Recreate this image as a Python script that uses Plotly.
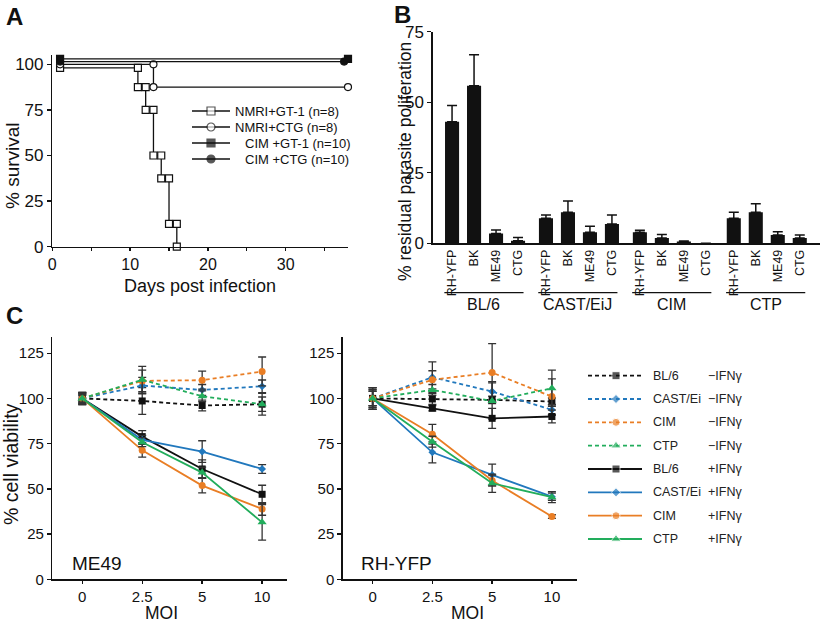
import plotly.graph_objects as go

W, H = 822, 622
FONT = "Liberation Sans, Arial, sans-serif"
INK = "#111111"

# ---------------- Panel A: survival ----------------
nmri_gt1_days = [1, 11, 11, 12, 12, 13, 13, 14, 14, 15, 15, 16, 16]
nmri_gt1_surv = [98, 98, 87.5, 87.5, 75, 75, 50, 50, 37.5, 37.5, 12.5, 12.5, 0]
nmri_ctg_days = [1, 13, 13, 38]
nmri_ctg_surv = [100, 100, 87.5, 87.5]
cim_gt1_days = [1, 38]
cim_gt1_surv = [103, 103]
cim_ctg_days = [1, 37.5]
cim_ctg_surv = [101.5, 101.5]
a_labels = ["NMRI+GT-1 (n=8)", "NMRI+CTG (n=8)", "CIM +GT-1 (n=10)", "CIM +CTG (n=10)"]
a_xticks = [0, 10, 20, 30]
a_yticks = [0, 25, 50, 75, 100]

# ---------------- Panel B: residual proliferation ----------------
b_groups = ["BL/6", "CAST/EiJ", "CIM", "CTP"]
b_strains = ["RH-YFP", "BK", "ME49", "CTG"]
b_bl6 = [43.1, 55.8, 3.5, 0.9]
b_cast = [8.9, 11.0, 3.9, 6.8]
b_cim = [3.9, 1.9, 0.6, 0.0]
b_ctp = [8.9, 11.0, 2.9, 1.9]
b_bl6_err = [5.7, 11.0, 1.2, 1.2]
b_cast_err = [1.1, 4.0, 2.1, 3.2]
b_cim_err = [0.7, 1.2, 0.2, 0.0]
b_ctp_err = [2.1, 3.0, 1.2, 1.0]
b_yticks = [0, 25, 50, 75]

# ---------------- Panel C: cell viability ----------------
moi = ["0", "2.5", "5", "10"]
c_strains = ["BL/6", "CAST/Ei", "CIM", "CTP"]
c_yticks = [0, 25, 50, 75, 100, 125]

me49_minus = [[100, 98.6, 96.1, 96.8], [100, 107.1, 104.7, 106.7],
              [100, 109.7, 110.1, 114.9], [100, 110.3, 101.2, 96.8]]
me49_minus_err = [[3.5, 7.4, 3.0, 4.0], [3.0, 4.5, 3.0, 3.5],
                  [3.0, 6.0, 5.0, 8.0], [3.0, 7.4, 3.0, 6.0]]
me49_plus = [[100, 78.9, 61.0, 47.0], [100, 77.1, 70.6, 61.0],
             [100, 71.3, 51.8, 38.9], [100, 75.8, 59.0, 31.5]]
me49_plus_err = [[3.0, 3.3, 5.0, 5.0], [2.0, 2.5, 6.0, 2.4],
                 [2.0, 3.7, 4.0, 3.5], [2.0, 2.5, 3.0, 9.8]]

rh_minus = [[100, 99.7, 99.2, 98.3], [100, 111.7, 103.8, 93.7],
            [100, 110.3, 114.3, 101.0], [100, 104.7, 98.6, 105.6]]
rh_minus_err = [[6.0, 3.0, 2.0, 2.0], [5.0, 8.5, 5.5, 3.0],
                [6.0, 5.0, 16.0, 9.8], [5.0, 3.0, 10.0, 10.0]]
rh_plus = [[100, 94.6, 89.0, 90.0], [100, 70.2, 57.7, 45.7],
           [100, 80.2, 54.6, 34.7], [100, 76.1, 53.1, 45.4]]
rh_plus_err = [[6.0, 1.5, 5.5, 3.5], [4.0, 5.8, 6.0, 2.0],
               [4.0, 5.5, 3.0, 1.0], [4.0, 3.0, 5.0, 3.0]]

# ---------------- styles ----------------
c_colors = ["#111111", "#2178bd", "#e97e25", "#22ad5c"]
c_symbols = ["square", "diamond", "circle", "triangle-up"]
c_sizes = [7, 6, 7, 8]
DASH = "4px,3px"


def px(x):
    return x / W


def py(y):
    return 1 - y / H


fig = go.Figure()

# ---- Panel A traces ----
a_series = [
    (nmri_gt1_days, nmri_gt1_surv, "square", "white"),
    (nmri_ctg_days, nmri_ctg_surv, "circle", "white"),
    (cim_ctg_days, cim_ctg_surv, "circle", INK),
    (cim_gt1_days, cim_gt1_surv, "square", INK),
]
for xs, ys, sym, fill in a_series:
    fig.add_trace(go.Scatter(
        x=xs, y=ys, mode="lines+markers", xaxis="x", yaxis="y",
        line=dict(color=INK, width=1.3),
        marker=dict(symbol=sym, size=7, color=fill, line=dict(color=INK, width=1.2)),
        cliponaxis=False, showlegend=False, hoverinfo="skip"))

# ---- Panel B traces ----
GAP = 4.27
b_vals = [b_bl6, b_cast, b_cim, b_ctp]
b_errs = [b_bl6_err, b_cast_err, b_cim_err, b_ctp_err]
b_x, b_y, b_e, b_text = [], [], [], []
for g in range(len(b_groups)):
    for i in range(len(b_strains)):
        b_x.append(g * GAP + i)
        b_y.append(b_vals[g][i])
        b_e.append(b_errs[g][i])
        b_text.append(b_strains[i])
fig.add_trace(go.Bar(
    x=b_x, y=b_y, xaxis="x2", yaxis="y2", width=0.64,
    marker=dict(color=INK, line=dict(width=0)),
    error_y=dict(type="data", array=b_e, arrayminus=[0] * len(b_e), symmetric=False,
                 color=INK, thickness=1.5, width=5),
    showlegend=False, hoverinfo="skip"))

# ---- Panel C traces ----
panels = [("x3", "y3", me49_minus, me49_minus_err, me49_plus, me49_plus_err),
          ("x4", "y4", rh_minus, rh_minus_err, rh_plus, rh_plus_err)]
for xa, ya, mv, me, pv, pe in panels:
    for vals, errs, dash in ((mv, me, DASH), (pv, pe, "solid")):
        for k in range(len(c_strains)):
            fig.add_trace(go.Scatter(
                x=moi, y=vals[k], xaxis=xa, yaxis=ya, mode="lines+markers",
                line=dict(color=c_colors[k], width=1.8, dash=dash),
                marker=dict(symbol=c_symbols[k], size=c_sizes[k], color=c_colors[k]),
                error_y=dict(type="data", array=errs[k], color="#333333",
                             thickness=1.3, width=4),
                cliponaxis=False, showlegend=False, hoverinfo="skip"))

# ---- Legends (drawn in an overlay pixel axis) ----
A_LEG_ROWS = [111, 127, 143, 159]
A_LEG_X = [192, 211, 230]
A_TEXT_X = [233, 233, 243, 243]
a_leg_style = [("square", "white"), ("circle", "white"), ("square", INK), ("circle", INK)]
for r, (sym, fill) in enumerate(a_leg_style):
    yy = A_LEG_ROWS[r]
    fig.add_trace(go.Scatter(
        x=A_LEG_X, y=[yy] * 3, xaxis="x5", yaxis="y5", mode="lines+markers",
        line=dict(color=INK, width=1.3),
        marker=dict(symbol=sym, size=[0, 8, 0], color=fill, line=dict(color=INK, width=1.2)),
        showlegend=False, hoverinfo="skip"))

C_LEG_ROWS = [375.7, 399, 422.3, 445.7, 469, 492.3, 515.7, 539]
C_LEG_X = [588, 616, 642]
c_conditions = ["\u2212IFN\u03b3", "+IFN\u03b3"]
for ci, dash in enumerate([DASH, "solid"]):
    for k in range(len(c_strains)):
        yy = C_LEG_ROWS[ci * 4 + k]
        fig.add_trace(go.Scatter(
            x=C_LEG_X, y=[yy] * 3, xaxis="x5", yaxis="y5", mode="lines+markers",
            line=dict(color=c_colors[k], width=1.8, dash=dash),
            marker=dict(symbol=c_symbols[k], size=[0, c_sizes[k] + 1, 0], color=c_colors[k]),
            showlegend=False, hoverinfo="skip"))

annotations = []


def ann(text, x, y, size, xanchor="center", yanchor="middle", angle=0, bold=False,
        family=FONT, color=INK):
    t = "<b>%s</b>" % text if bold else text
    annotations.append(dict(
        text=t, x=px(x), y=py(y), xref="paper", yref="paper", showarrow=False,
        xanchor=xanchor, yanchor=yanchor, textangle=angle,
        font=dict(family=family, size=size, color=color)))


for r, lab in enumerate(a_labels):
    ann(lab, A_TEXT_X[r], A_LEG_ROWS[r], 13, xanchor="left")
for ci, cond in enumerate(c_conditions):
    for k, s in enumerate(c_strains):
        yy = C_LEG_ROWS[ci * 4 + k]
        ann(s, 651, yy, 12.5, xanchor="left", color="#222")
        ann(cond, 706, yy, 12.5, xanchor="left", color="#222")

# panel letters
ann("A", 15, 17, 24, bold=True)
ann("B", 402, 15, 24, bold=True)
ann("C", 15, 315, 24, bold=True)

# axis titles
ann("% survival", 12, 166, 19, angle=-90)
ann("Days post infection", 200, 285.5, 18)
ann("% residual parasite poliferation", 405, 162, 17.5, angle=-90)
ann("% cell viability", 11, 464, 19.5, angle=-90)
ann("MOI", 161, 612.5, 17.5)
ann("MOI", 467, 612.5, 17.5)
ann("ME49", 97, 563, 19)
ann("RH-YFP", 396, 563, 19)

# B group labels and lines
shapes = []
for g, name in enumerate(b_groups):
    shapes.append(dict(type="line", xref="x2", yref="paper",
                       x0=g * GAP - 0.35, x1=g * GAP + 3.25, y0=py(292.7), y1=py(292.7),
                       line=dict(color=INK, width=1.3)))
    annotations.append(dict(text=name, x=g * GAP + 1.45, y=py(304), xref="x2", yref="paper",
                            showarrow=False, xanchor="center", yanchor="middle",
                            font=dict(family=FONT, size=16, color=INK)))


def axis(**kw):
    base = dict(showline=True, linecolor=INK, linewidth=1.4, ticks="outside", ticklen=4,
                tickwidth=1.4, tickcolor=INK, showgrid=False, zeroline=False,
                automargin=False,
                tickfont=dict(family=FONT, size=17, color=INK), fixedrange=True)
    base.update(kw)
    return base


fig.update_layout(
    width=W, height=H, margin=dict(l=0, r=0, t=0, b=0, pad=0, autoexpand=False),
    paper_bgcolor="white", plot_bgcolor="rgba(0,0,0,0)", showlegend=False,
    font=dict(family=FONT, color=INK),
    xaxis=axis(domain=[px(52.3), px(348)], range=[0, 38], anchor="y",
               tickvals=a_xticks, ticklen=3,
               tickfont=dict(family=FONT, size=16, color=INK),
               minor=dict(dtick=5, tick0=0, ticks="outside", ticklen=3,
                          tickwidth=1.2, tickcolor=INK)),
    yaxis=axis(domain=[py(246.7), py(55.2)], range=[0, 105], anchor="x", tickvals=a_yticks),
    xaxis2=axis(domain=[px(432.7), px(820)], range=[-0.88, 16.73], anchor="y2",
                tickvals=b_x, ticktext=b_text, tickangle=-90, ticks="",
                tickfont=dict(family=FONT, size=12.5, color=INK)),
    yaxis2=axis(domain=[py(243.3), py(31.7)], range=[0, 75], anchor="x2", tickvals=b_yticks),
    xaxis3=axis(domain=[px(52.3), px(287.3)], type="category", categoryorder="array",
                categoryarray=moi, range=[-0.5, 3.42], anchor="y3", ticklen=3,
                tickfont=dict(family=FONT, size=15, color=INK)),
    yaxis3=axis(domain=[py(579.3), py(337.3)], range=[0, 133.8], anchor="x3",
                tickvals=c_yticks, tickfont=dict(family=FONT, size=15, color=INK)),
    xaxis4=axis(domain=[px(342.7), px(577)], type="category", categoryorder="array",
                categoryarray=moi, range=[-0.5, 3.42], anchor="y4", ticklen=3,
                tickfont=dict(family=FONT, size=15, color=INK)),
    yaxis4=axis(domain=[py(579.3), py(337.3)], range=[0, 133.8], anchor="x4",
                tickvals=c_yticks, tickfont=dict(family=FONT, size=15, color=INK)),
    xaxis5=dict(domain=[0, 1], range=[0, W], visible=False, anchor="y5", fixedrange=True,
                automargin=False),
    yaxis5=dict(domain=[0, 1], range=[H, 0], visible=False, anchor="x5", fixedrange=True,
                automargin=False),
    annotations=annotations, shapes=shapes,
)

fig.write_html("out.html", config={"displayModeBar": False, "staticPlot": True},
               post_script="document.body.style.margin='0px';"
                           "document.body.style.overflow='hidden';")
